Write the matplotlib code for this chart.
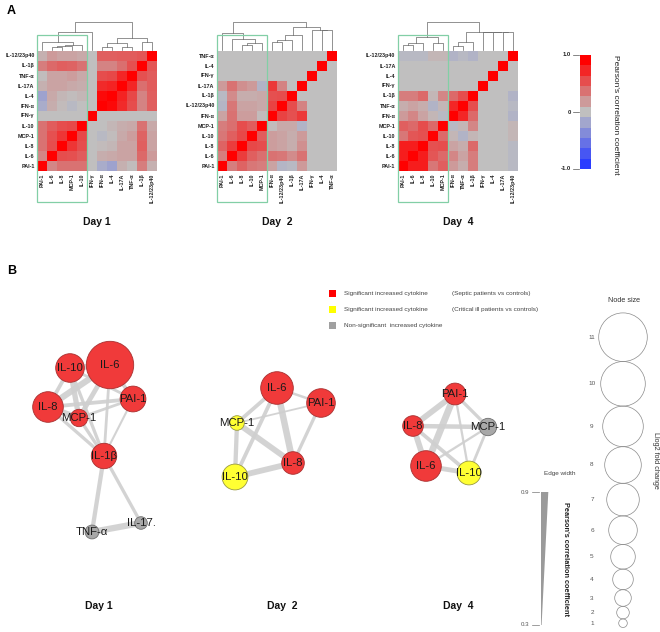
import numpy as np
import matplotlib
matplotlib.use('Agg')
import matplotlib.pyplot as plt
from matplotlib.patches import Circle, Rectangle, Polygon
from matplotlib.colors import LinearSegmentedColormap

plt.rcParams['font.family'] = ['Liberation Sans', 'DejaVu Sans']

# ---------------- data: heatmaps (lower triangles, column order) ----------------
day1_order = ['PAI-1', 'IL-6', 'IL-8', 'MCP-1', 'IL-10', 'IFN-γ', 'IFN-α', 'IL-4',
              'IL-17A', 'TNF-α', 'IL-1β', 'IL-12/23p40']
day1_lower = [
    [1],
    [0.30, 1],
    [0.40, 0.60, 1],
    [0.40, 0.58, 0.72, 1],
    [0.40, 0.52, 0.60, 0.62, 1],
    [0, 0, 0, 0, 0, 1],
    [-0.15, 0.10, 0.03, -0.05, 0.0, 0, 1],
    [-0.22, 0.12, 0.05, 0.02, 0.05, 0, 0.95, 1],
    [0.08, 0.15, 0.15, 0.12, 0.10, 0, 0.78, 0.82, 1],
    [0.02, 0.15, 0.15, 0.18, 0.12, 0, 0.60, 0.62, 0.80, 1],
    [0.35, 0.45, 0.50, 0.48, 0.40, 0, 0.32, 0.32, 0.42, 0.58, 1],
    [0.08, 0.20, 0.15, 0.15, 0.12, 0, 0.50, 0.50, 0.52, 0.52, 0.55, 1],
]
day1_links = [(1, 2, .10), (12, 3, .14), (13, 4, .18), (0, 14, .29), (15, 5, .64),
              (6, 7, .10), (8, 9, .12), (17, 18, .25), (10, 11, .29), (19, 20, .43),
              (16, 21, 1.0)]

day2_order = ['PAI-1', 'IL-6', 'IL-8', 'IL-10', 'MCP-1', 'IFN-α', 'IL-12/23p40', 'IL-1β',
              'IL-17A', 'IFN-γ', 'IL-4', 'TNF-α']
day2_lower = [
    [1],
    [0.35, 1],
    [0.48, 0.68, 1],
    [0.38, 0.50, 0.62, 1],
    [0.35, 0.42, 0.60, 0.52, 1],
    [0.15, 0.40, 0.18, 0.18, 0.03, 1],
    [-0.08, 0.38, 0.15, 0.15, 0.12, 0.65, 1],
    [-0.05, 0.28, 0.10, 0.10, 0.12, 0.58, 0.60, 1],
    [0.20, 0.40, 0.25, 0.20, -0.10, 0.70, 0.32, 0.0, 1],
    [0, 0, 0, 0, 0, 0, 0, 0, 0, 1],
    [0, 0, 0, 0, 0, 0, 0, 0, 0, 0, 1],
    [0, 0, 0, 0, 0, 0, 0, 0, 0, 0, 0, 1],
]
day2_links = [(2, 3, .18), (12, 4, .25), (1, 13, .39), (0, 14, .61), (5, 6, .27),
              (16, 7, .35), (17, 8, .55), (10, 11, .70), (9, 19, .72), (18, 20, .82),
              (15, 21, 1.0)]

day4_order = ['PAI-1', 'IL-6', 'IL-8', 'IL-10', 'MCP-1', 'IFN-α', 'TNF-α', 'IL-1β',
              'IFN-γ', 'IL-4', 'IL-17A', 'IL-12/23p40']
day4_lower = [
    [1],
    [0.85, 1],
    [0.85, 0.85, 1],
    [0.38, 0.55, 0.58, 1],
    [0.50, 0.45, 0.60, 0.45, 1],
    [0.20, 0.30, 0.15, 0.05, -0.05, 1],
    [0.10, 0.15, 0.10, -0.10, 0.05, 0.80, 1],
    [0.35, 0.35, 0.45, 0.05, 0.30, 0.45, 0.60, 1],
    [0, 0, 0, 0, 0, 0, 0, 0, 1],
    [0, 0, 0, 0, 0, 0, 0, 0, 0, 1],
    [0, 0, 0, 0, 0, 0, 0, 0, 0, 0, 1],
    [-0.05, -0.05, -0.05, 0.05, 0.05, -0.10, -0.05, -0.10, 0, 0, 0, 1],
]
day4_links = [(0, 1, .18), (12, 2, .25), (3, 4, .25), (13, 14, .46), (5, 6, .15),
              (16, 7, .30), (10, 11, .64), (9, 18, .64), (8, 19, .64), (17, 20, .64),
              (15, 21, 1.0)]

day_titles = ['Day 1', 'Day  2', 'Day  4']
cbar_ticks = [1.0, 0.0, -1.0]
cbar_ticklabels = ['1.0', '0', '-1.0']

# ---------------- data: networks ----------------
net1_names = ['IL-6', 'IL-10', 'IL-8', 'PAI-1', 'MCP-1', 'IL-1β', 'TNF-α', 'IL-17.']
net1_x = [110, 70, 48, 133, 79, 104, 92, 141]
net1_y = [365, 368, 407, 399, 418, 456, 532, 523]
net1_fc = [10.7, 6.0, 6.5, 5.3, 3.2, 5.2, 2.3, 2.0]
net1_cls = ['red', 'red', 'red', 'red', 'red', 'red', 'gray', 'gray']
net1_edges = [('IL-6', 'IL-10', .75), ('IL-6', 'IL-8', .80), ('IL-6', 'MCP-1', .65),
              ('IL-6', 'PAI-1', .55), ('IL-6', 'IL-1β', .45), ('IL-10', 'IL-8', .55),
              ('IL-10', 'MCP-1', .70), ('IL-10', 'IL-1β', .50), ('IL-10', 'PAI-1', .45),
              ('IL-8', 'MCP-1', .75), ('IL-8', 'PAI-1', .55), ('IL-8', 'IL-1β', .50),
              ('MCP-1', 'PAI-1', .45), ('MCP-1', 'IL-1β', .50), ('PAI-1', 'IL-1β', .38),
              ('IL-1β', 'TNF-α', .60), ('IL-1β', 'IL-17.', .50), ('TNF-α', 'IL-17.', .80)]

net2_names = ['IL-6', 'PAI-1', 'MCP-1', 'IL-10', 'IL-8']
net2_x = [277, 321, 237, 235, 293]
net2_y = [388, 403, 423, 477, 463]
net2_fc = [7.0, 6.0, 2.5, 5.3, 4.5]
net2_cls = ['red', 'red', 'yellow', 'yellow', 'red']
net2_edges = [('IL-6', 'PAI-1', .42), ('IL-6', 'MCP-1', .55), ('IL-6', 'IL-10', .55),
              ('IL-6', 'IL-8', .82), ('MCP-1', 'PAI-1', .35), ('MCP-1', 'IL-8', .75),
              ('MCP-1', 'IL-10', .60), ('IL-10', 'IL-8', .75), ('PAI-1', 'IL-8', .50)]

net4_names = ['PAI-1', 'IL-8', 'MCP-1', 'IL-6', 'IL-10']
net4_x = [455, 413, 488, 426, 469]
net4_y = [394, 426, 427, 466, 473]
net4_fc = [4.3, 4.0, 3.2, 6.5, 4.8]
net4_cls = ['red', 'red', 'gray', 'red', 'yellow']
net4_edges = [('PAI-1', 'IL-8', .75), ('PAI-1', 'IL-6', .85), ('PAI-1', 'IL-10', .40),
              ('PAI-1', 'MCP-1', .50), ('IL-8', 'MCP-1', .62), ('IL-8', 'IL-6', .75),
              ('IL-8', 'IL-10', .55), ('IL-6', 'IL-10', .65), ('IL-6', 'MCP-1', .40),
              ('MCP-1', 'IL-10', .45)]

legend_labels = ['Significant increased cytokine', 'Significant increased cytokine',
                 'Non-significant  increased cytokine']
legend_groups = ['(Septic patients vs controls)', '(Critical ill patients vs controls)', '']
legend_cls = ['red', 'yellow', 'gray']
size_values = [1, 2, 3, 4, 5, 6, 7, 8, 9, 10, 11]
edge_ticks = [0.9, 0.3]

# ---------------- styles ----------------
node_face = {'red': '#f03a3a', 'yellow': '#ffff33', 'gray': '#a8a8a8'}
node_edge = {'red': '#a83030', 'yellow': '#9a9a40', 'gray': '#707070'}
legend_face = {'red': '#ff0000', 'yellow': '#ffff00', 'gray': '#a0a0a0'}
cmap = LinearSegmentedColormap.from_list('rgb', [(0, '#2a3cff'), (0.5, '#c0c0c0'), (1, '#ff0000')])


def radius(fc):
    return 2.0 * fc + 2.3


def edge_px(w):
    return 1.3 + (w - 0.3) / 0.6 * 6.0


def sym(lower):
    n = len(lower)
    M = np.zeros((n, n))
    for i, row in enumerate(lower):
        for j, v in enumerate(row):
            M[i, j] = v
            M[j, i] = v
    return M


fig = plt.figure(figsize=(6.6, 6.32), dpi=100)
ax = fig.add_axes([0, 0, 1, 1])
ax.set_xlim(0, 660)
ax.set_ylim(632, 0)
ax.axis('off')
PT = 0.72  # points per pixel

# ---------------- panel A ----------------
heat_x0 = [37, 217, 398]
heat_y0 = 51
cell = 10
dend_base, dend_h = 50, 28
orders = [day1_order, day2_order, day4_order]
lowers = [day1_lower, day2_lower, day4_lower]
links_all = [day1_links, day2_links, day4_links]

for k in range(3):
    x0 = heat_x0[k]
    order = orders[k]
    n = len(order)
    M = sym(lowers[k])
    X = x0 + cell * np.arange(n + 1)
    Y = heat_y0 + cell * np.arange(n + 1)
    ax.pcolormesh(X, Y, M[::-1, :], cmap=cmap, vmin=-1, vmax=1, zorder=1)
    rows = order[::-1]
    for i, lab in enumerate(rows):
        ax.text(x0 - 2.5, heat_y0 + cell * (i + 0.5), lab, ha='right', va='center',
                fontsize=3.9, fontweight='bold', color='#222222')
    for j, lab in enumerate(order):
        ax.text(x0 + cell * (j + 0.5), heat_y0 + cell * n + 2.5, lab, ha='center', va='top',
                rotation=90, fontsize=3.9, fontweight='bold', color='#222222')
    # dendrogram
    xs = {i: x0 + cell * (i + 0.5) for i in range(n)}
    hs = {i: 0.0 for i in range(n)}
    for m, (a, b, h) in enumerate(links_all[k]):
        ax.plot([xs[a], xs[a], xs[b], xs[b]],
                [dend_base - hs[a] * dend_h, dend_base - h * dend_h,
                 dend_base - h * dend_h, dend_base - hs[b] * dend_h],
                color='#666666', lw=0.5, zorder=2)
        xs[n + m] = (xs[a] + xs[b]) / 2
        hs[n + m] = h
    # green box
    ax.add_patch(Rectangle((x0, 35), 5 * cell, 167, fill=False, ec='#82cfa6', lw=0.9, zorder=3))
    ax.text(x0 + 60, 222, day_titles[k], ha='center', va='center', fontsize=7.5,
            fontweight='bold', color='#111111')

# colorbar
cb_x, cb_y0, cb_y1, cb_w = 580, 55, 169, 11
nb = 11
band_vals = np.linspace(1, -1, nb).reshape(-1, 1)
ax.pcolormesh([cb_x, cb_x + cb_w], np.linspace(cb_y0, cb_y1, nb + 1), band_vals,
              cmap=cmap, vmin=-1, vmax=1, zorder=1)
for t, lab in zip(cbar_ticks, cbar_ticklabels):
    yy = cb_y0 + (1 - t) / 2 * (cb_y1 - cb_y0)
    ax.plot([cb_x - 7, cb_x - 1], [yy, yy], color='#555555', lw=0.5)
    ax.text(cb_x - 9, yy, lab, ha='right', va='center', fontsize=4.2, fontweight='bold',
            color='#222222')
ax.text(615, 115, "Pearson's correlation coefficient", rotation=270, ha='center', va='center',
        fontsize=6, color='#222222')

ax.text(7, 11, 'A', fontsize=9, fontweight='bold', ha='left', va='center')
ax.text(7, 271, 'B', fontsize=9, fontweight='bold', ha='left', va='center')

# ---------------- panel B: networks ----------------
nets = [(net1_names, net1_x, net1_y, net1_fc, net1_cls, net1_edges),
        (net2_names, net2_x, net2_y, net2_fc, net2_cls, net2_edges),
        (net4_names, net4_x, net4_y, net4_fc, net4_cls, net4_edges)]
for names, nx, ny, fc, cls, edges in nets:
    pos = {nm: (x, y) for nm, x, y in zip(names, nx, ny)}
    for a, b, w in edges:
        ax.plot([pos[a][0], pos[b][0]], [pos[a][1], pos[b][1]], color='#cfcfcf',
                lw=edge_px(w) * PT, solid_capstyle='butt', zorder=4, alpha=0.9)
    for nm, x, y, f, c in zip(names, nx, ny, fc, cls):
        ax.add_patch(Circle((x, y), radius(f), fc=node_face[c], ec=node_edge[c], lw=0.6, zorder=5))
    for nm, x, y in zip(names, nx, ny):
        ax.text(x, y, nm, ha='center', va='center', fontsize=8.2, color='#1a1a1a', zorder=6)

for k, xc in enumerate([99, 282, 458]):
    ax.text(xc, 606, day_titles[k], ha='center', va='center', fontsize=7.5,
            fontweight='bold', color='#111111')

# legend
for i, (lab, grp, c) in enumerate(zip(legend_labels, legend_groups, legend_cls)):
    yy = 293 + 16 * i
    ax.add_patch(Rectangle((328.5, yy - 3.5), 7, 7, fc=legend_face[c], ec='none'))
    ax.text(344, yy, lab, ha='left', va='center', fontsize=4.6, color='#444444')
    if grp:
        ax.text(452, yy, grp, ha='left', va='center', fontsize=4.6, color='#444444')

# node size legend
ax.text(624, 301, 'Node size', ha='center', va='center', fontsize=5.2, color='#333333')
y_bottom = 627.5
cx = 623
for v in size_values:
    r = radius(v)
    cy = y_bottom - r
    ax.add_patch(Circle((cx, cy), r, fill=False, ec='#8a8a8a', lw=0.5))
    ax.text(592, cy, str(v), ha='center', va='center', fontsize=4.6, color='#555555')
    y_bottom -= 2 * r
ax.text(655, 460, 'Llog2 fold change', rotation=270, ha='center', va='center',
        fontsize=5.2, color='#333333')

# edge width legend
ew_top, ew_bot, ew_x = 492, 625, 541
ax.text(560, 474, 'Edge width', ha='center', va='center', fontsize=4.6, color='#444444')
ax.add_patch(Polygon([(ew_x, ew_top), (ew_x + edge_px(edge_ticks[0]), ew_top),
                      (ew_x + 0.6, ew_bot), (ew_x, ew_bot)], closed=True,
                     fc='#9a9a9a', ec='none'))
for t, yy in zip(edge_ticks, [ew_top, ew_bot]):
    ax.plot([532, 539], [yy, yy], color='#777777', lw=0.5)
    ax.text(529, yy, f'{t:.1f}', ha='right', va='center', fontsize=4.4, color='#555555')
ax.text(566, 559, "Pearson's correlation coefficient", rotation=270, ha='center', va='center',
        fontsize=5.3, color='#222222', fontweight='bold')

fig.savefig('out.png', dpi=100)
